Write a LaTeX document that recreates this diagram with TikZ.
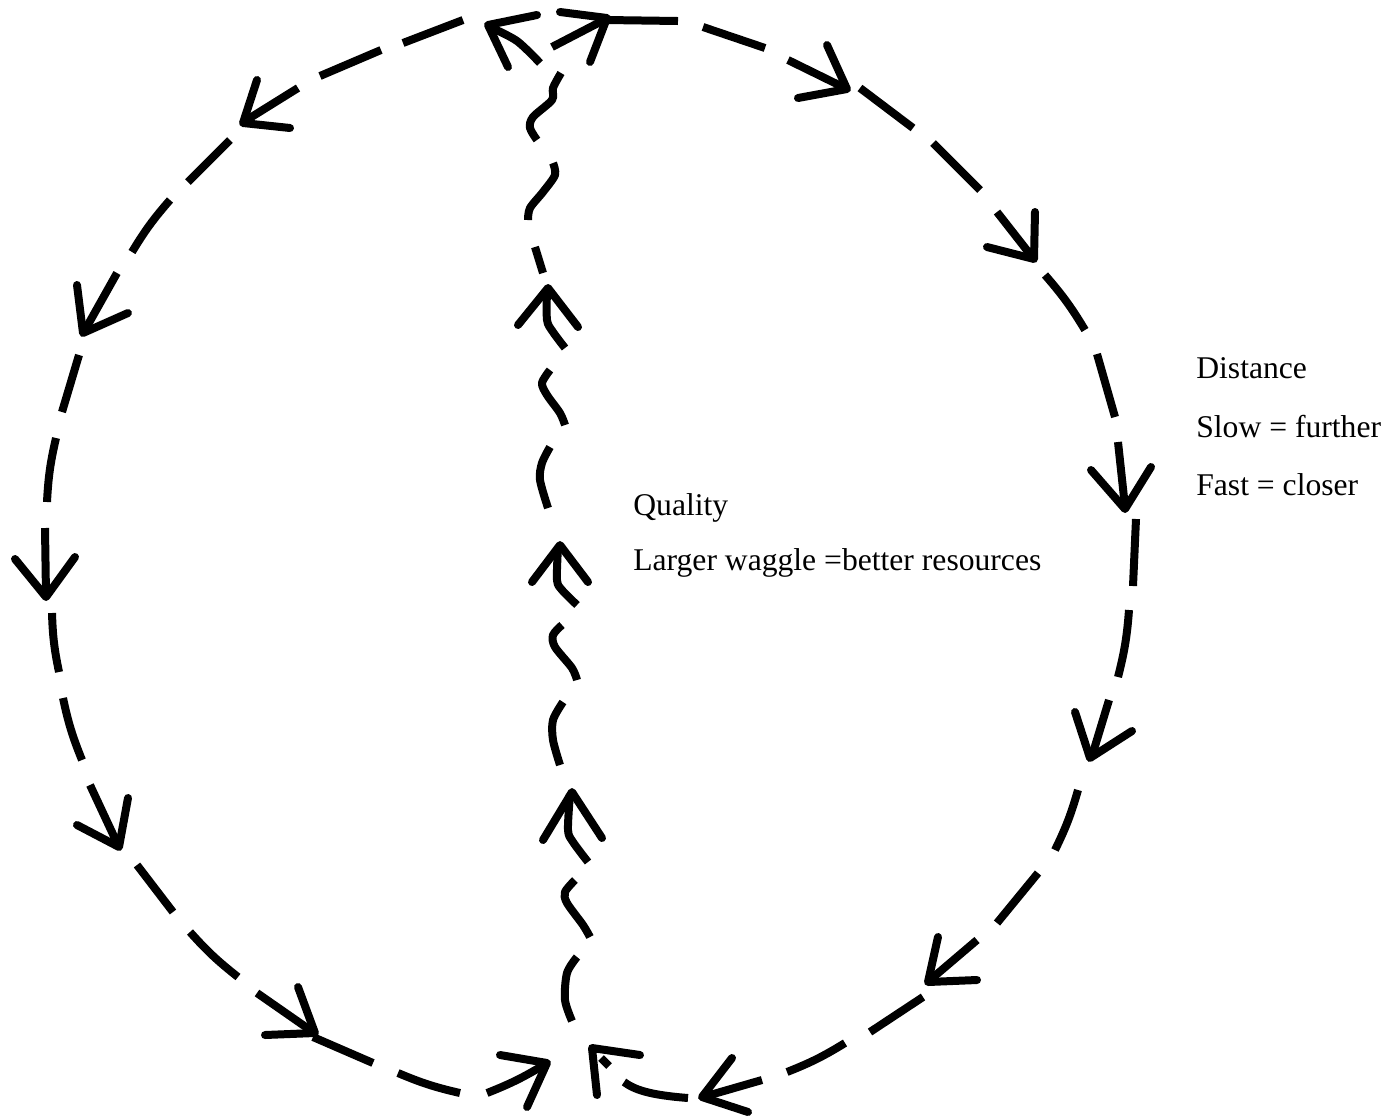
\documentclass[tikz,border=0pt]{standalone}
\usepackage{fontspec}
\setmainfont{Liberation Serif}
\tikzset{
  dsh/.style={line width=0.16cm, line cap=butt},
  ahead/.style={line width=0.16cm, line cap=round, line join=round},
  wig/.style={line width=0.16cm, line cap=butt, line join=round},
  lb/.style={bend right=5},
  rb/.style={bend left=5},
  lbl/.style={anchor=base west, inner sep=0pt, font=\fontsize{18}{22}\selectfont},
}
\begin{document}
\begin{tikzpicture}[x=0.02cm,y=-0.02cm]
\useasboundingbox (0,0) rectangle (1397,1117);
% ---------- left arc ----------
\draw[dsh] (463,20) -- (403,43);
\draw[dsh] (381,50) -- (320,76);
\draw[dsh] (298,88) -- (245,121);
\draw[ahead] (257,80) -- (243,123) -- (290,128);
\draw[dsh] (230,140) -- (188,182);
\draw[dsh] (170,200) to[lb] (132,252);
\draw[dsh] (117,273) -- (85,330);
\draw[ahead] (77,285) -- (83,333) -- (128,313);
\draw[dsh] (79,355) -- (62,412);
\draw[dsh] (56,438) to[lb] (47,502);
\draw[dsh] (45,528) -- (46,595);
\draw[ahead] (15,559) -- (46,597) -- (75,557);
\draw[dsh] (52,613) to[lb] (59,672);
\draw[dsh] (63,698) to[lb] (82,760);
\draw[dsh] (90,785) -- (118,845);
\draw[ahead] (77,825) -- (119,847) -- (128,798);
\draw[dsh] (137,865) -- (173,912);
\draw[dsh] (190,932) to[lb] (238,977);
\draw[dsh] (257,993) -- (313,1032);
\draw[ahead] (298,987) -- (315,1033) -- (265,1035);
\draw[dsh] (313,1037) -- (373,1063);
\draw[dsh] (398,1073) to[lb] (460,1093);
\draw[dsh] (487,1093) to[lb] (547,1063);
\draw[ahead] (500,1055) -- (547,1063) -- (527,1107);
% ---------- right arc ----------
\draw[dsh] (606,20) -- (678,21);
\draw[dsh] (703,27) -- (765,48);
\draw[dsh] (788,60) -- (845,88);
\draw[ahead] (827,45) -- (847,89) -- (798,98);
\draw[dsh] (860,88) -- (913,128);
\draw[dsh] (933,143) -- (980,190);
\draw[dsh] (997,212) -- (1033,258);
\draw[ahead] (1035,212) -- (1034,259) -- (987,247);
\draw[dsh] (1045,275) to[rb] (1085,330);
\draw[dsh] (1097,354) -- (1115,417);
\draw[dsh] (1118,442) -- (1125,507);
\draw[ahead] (1091,470) -- (1125,509) -- (1151,467);
\draw[dsh] (1136,519) -- (1133,586);
\draw[dsh] (1129,610) to[rb] (1118,677);
\draw[dsh] (1109,700) -- (1092,756);
\draw[ahead] (1075,712) -- (1090,758) -- (1132,731);
\draw[dsh] (1078,790) to[rb] (1055,850);
\draw[dsh] (1038,873) -- (997,923);
\draw[dsh] (977,940) -- (930,980);
\draw[ahead] (938,937) -- (928,982) -- (977,980);
\draw[dsh] (923,997) -- (870,1032);
\draw[dsh] (845,1043) to[rb] (787,1072);
\draw[dsh] (762,1080) -- (703,1097);
\draw[ahead] (732,1058) -- (702,1097) -- (748,1112);
\draw[dsh] (688,1098) .. controls (650,1095) and (635,1090) .. (624,1082);
\draw[ahead] (640,1055) -- (592,1048) -- (597,1095);
\draw[dsh] (601,1058) -- (609,1066);
% ---------- central waggle run ----------
\draw[ahead] (537,15) -- (488,25) -- (508,67);
\draw[dsh] plot[smooth] coordinates {(490,27) (517,41) (540,63)};
\draw[ahead] (560,12) -- (607,18) -- (590,62);
\draw[dsh] (604,20) -- (552,47);
\draw[wig] plot[smooth] coordinates {(561,73) (553,88) (552,100) (533,117) (530,128) (537,140)};
\draw[wig] plot[smooth] coordinates {(553,163) (555,175) (543,192) (530,208) (528,220)};
\draw[dsh] (535,247) -- (543,273);
\draw[ahead] (518,325) -- (548,288) -- (578,327);
\draw[wig] plot[smooth] coordinates {(547,290) (547,320) (553,332) (565,348)};
\draw[wig] plot[smooth] coordinates {(550,370) (542,383) (547,395) (560,413) (565,425)};
\draw[wig] plot[smooth] coordinates {(550,447) (542,463) (540,480) (548,508)};
\draw[ahead] (532,582) -- (560,545) -- (588,582);
\draw[wig] plot[smooth] coordinates {(558,547) (557,580) (562,590) (577,605)};
\draw[wig] plot[smooth] coordinates {(562,625) (553,635) (555,647) (572,668) (577,680)};
\draw[wig] plot[smooth] coordinates {(563,702) (553,720) (553,740) (560,765)};
\draw[ahead] (543,840) -- (572,792) -- (602,838);
\draw[wig] plot[smooth] coordinates {(570,794) (568,830) (573,842) (588,862)};
\draw[wig] plot[smooth] coordinates {(575,880) (565,892) (567,903) (583,925) (590,937)};
\draw[wig] plot[smooth] coordinates {(577,957) (567,973) (565,1000) (572,1021)};
% ---------- labels ----------
\node[lbl] (dist) at (1196,378) {Distance};
\node[lbl] (slow) at (1196,437) {Slow = further};
\node[lbl] (fast) at (1196,495) {Fast = closer};
\node[lbl] (qual) at (633,515) {Quality};
\node[lbl] (larger) at (633,570) {Larger waggle =better resources};
\end{tikzpicture}
\end{document}
